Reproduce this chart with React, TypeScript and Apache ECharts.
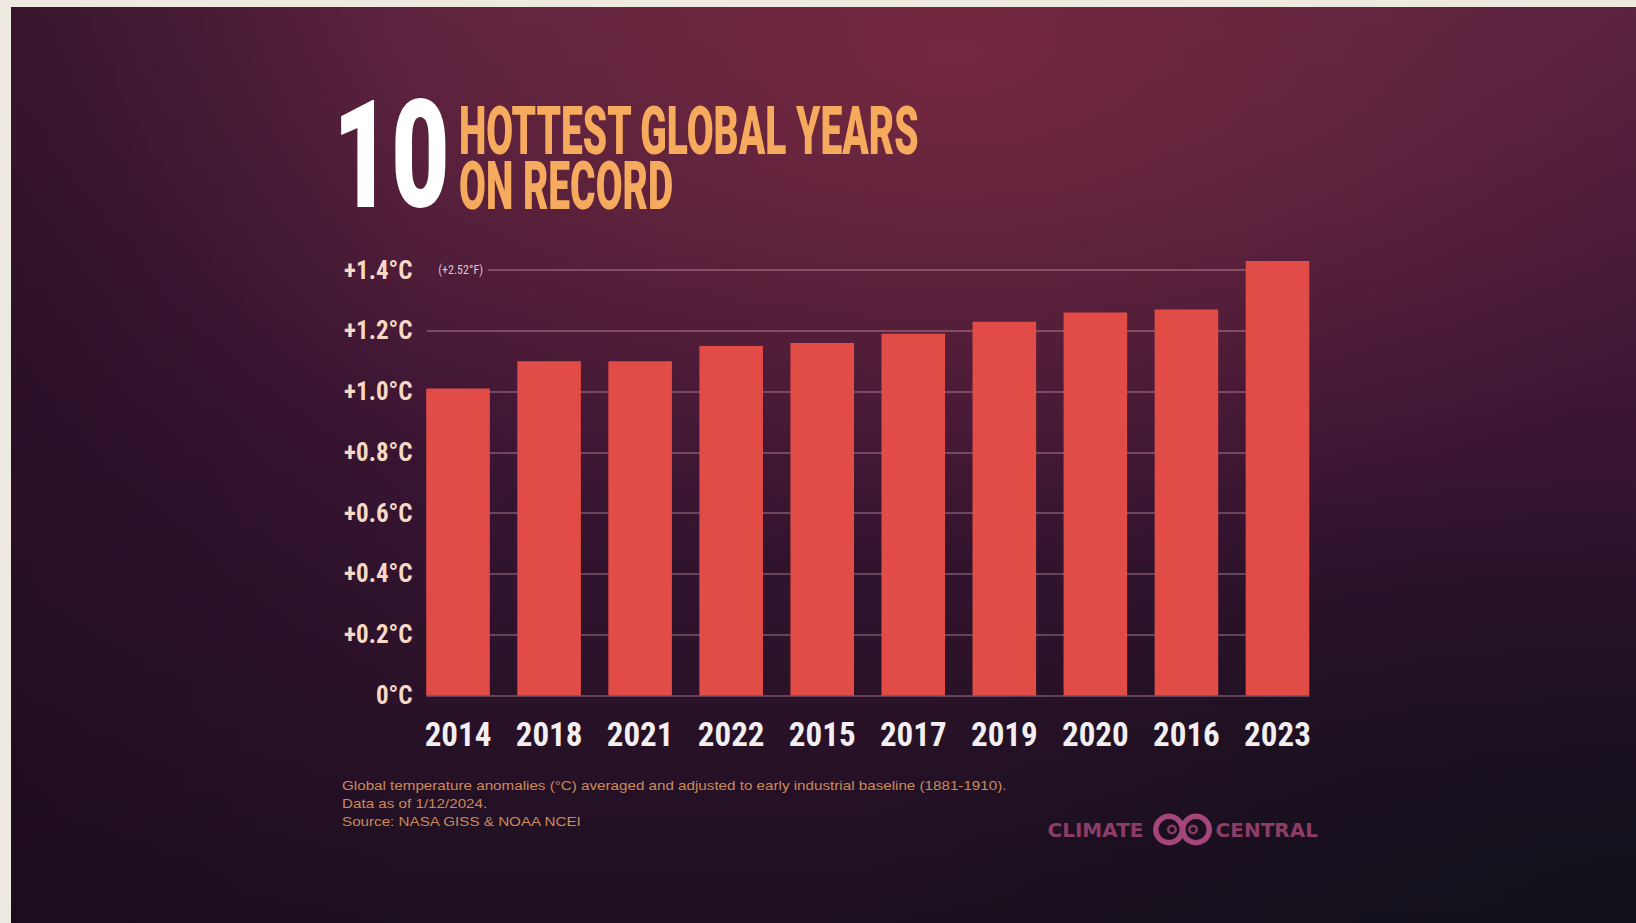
import React, { useEffect, useRef } from "react";
import * as echarts from "echarts";

// ---- data ----
const years = ["2014", "2018", "2021", "2022", "2015", "2017", "2019", "2020", "2016", "2023"];
const anomalies = [1.01, 1.1, 1.1, 1.15, 1.16, 1.19, 1.23, 1.26, 1.27, 1.43];
const yMin = 0;
const yMax = 1.4;
const yStep = 0.2;
const topFahrenheitNote = "(+2.52°F)";
const titleNumber = "10";
const titleLines = ["HOTTEST GLOBAL YEARS", "ON RECORD"];
const footnotes = [
  "Global temperature anomalies (°C) averaged and adjusted to early industrial baseline (1881-1910).",
  "Data as of 1/12/2024.",
  "Source: NASA GISS & NOAA NCEI",
];
const brandLeft = "CLIMATE";
const brandRight = "CENTRAL";

const W = 1636;
const H = 923;
const condensed = "'Liberation Sans Narrow', 'Roboto Condensed', 'DejaVu Sans Condensed', 'Arial Narrow', sans-serif";

function yLabel(v: number) {
  if (Math.abs(v) < 1e-9) return "0°C";
  return "+" + v.toFixed(1) + "°C";
}

export default function App() {
  const ref = useRef<HTMLDivElement>(null);
  useEffect(() => {
    if (!ref.current) return;
    const chart = echarts.init(ref.current, null, { renderer: "svg", width: W, height: H });
    const gridTop = 270;
    const gridBottom = H - 695.5;
    const lineColor = "rgba(255,205,220,0.36)";
    const nTicks = Math.round((yMax - yMin) / yStep) + 1;
    const lowerColors = Array.from({ length: nTicks }, (_, i) => (i < nTicks - 1 ? lineColor : "rgba(0,0,0,0)"));
    const topColors = Array.from({ length: nTicks }, (_, i) => (i === nTicks - 1 ? lineColor : "rgba(0,0,0,0)"));

    const option: any = {
      animation: false,
      backgroundColor: "#efeadf",
      grid: [
        { left: 412.5, right: W - 1323, top: gridTop, bottom: gridBottom, containLabel: false },
        { left: 426.7, right: W - 1309.5, top: gridTop, bottom: gridBottom, containLabel: false },
        { left: 488, right: W - 1309.5, top: gridTop, bottom: gridBottom, containLabel: false },
      ],
      xAxis: [
        {
          type: "category",
          gridIndex: 0,
          data: years,
          axisLine: { show: false },
          axisTick: { show: false },
          axisLabel: {
            interval: 0,
            color: "#f3eff1",
            fontSize: 33,
            fontWeight: "bold",
            fontFamily: condensed,
            margin: 22,
          },
        },
        { type: "value", gridIndex: 1, min: 0, max: 1, show: false },
        { type: "value", gridIndex: 2, min: 0, max: 1, show: false },
      ],
      yAxis: [
        {
          type: "value",
          gridIndex: 0,
          min: yMin,
          max: yMax,
          interval: yStep,
          splitLine: { show: false },
          axisLine: { show: false },
          axisTick: { show: false },
          axisLabel: {
            formatter: yLabel,
            color: "#f7d9c6",
            fontSize: 25,
            fontWeight: "bold",
            fontFamily: condensed,
            margin: 0,
          },
        },
        {
          type: "value",
          gridIndex: 1,
          min: yMin,
          max: yMax,
          interval: yStep,
          axisLine: { show: false },
          axisTick: { show: false },
          axisLabel: { show: false },
          splitLine: { show: true, lineStyle: { color: lowerColors, width: 1.5 } },
        },
        {
          type: "value",
          gridIndex: 2,
          min: yMin,
          max: yMax,
          interval: yStep,
          axisLine: { show: false },
          axisTick: { show: false },
          axisLabel: {
            formatter: (v: number) => (Math.abs(v - yMax) < 1e-6 ? topFahrenheitNote : ""),
            color: "#dcc6cf",
            fontSize: 12,
            fontFamily: condensed,
            margin: 5,
          },
          splitLine: { show: true, lineStyle: { color: topColors, width: 1.5 } },
        },
      ],
      series: [
        {
          type: "bar",
          xAxisIndex: 0,
          yAxisIndex: 0,
          data: anomalies,
          barWidth: 63.6,
          clip: false,
          itemStyle: { color: "#e24c46" },
          z: 5,
        },
      ],
      graphic: [
        // dark backdrop
        {
          type: "rect",
          z: -100,
          silent: true,
          shape: { x: 11, y: 7, width: W - 11, height: H - 7 },
          style: {
            fill: new echarts.graphic.LinearGradient(0, 0, 0, 1, [
              { offset: 0, color: "#52203e" },
              { offset: 0.45, color: "#3a1533" },
              { offset: 1, color: "#1d0f20" },
            ]),
          },
        },
        {
          type: "rect",
          z: -99,
          silent: true,
          shape: { x: 11, y: 7, width: W - 11, height: H - 7 },
          style: {
            fill: new echarts.graphic.RadialGradient(0.58, 0.05, 0.55, [
              { offset: 0, color: "rgba(128,44,64,0.75)" },
              { offset: 1, color: "rgba(128,44,64,0)" },
            ]),
          },
        },
        {
          type: "rect",
          z: -98,
          silent: true,
          shape: { x: 11, y: 7, width: W - 11, height: H - 7 },
          style: {
            fill: new echarts.graphic.LinearGradient(0, 0, 1, 0, [
              { offset: 0, color: "rgba(25,8,25,0.45)" },
              { offset: 0.25, color: "rgba(25,8,25,0)" },
              { offset: 1, color: "rgba(25,8,25,0)" },
            ]),
          },
        },
        {
          type: "rect",
          z: -97,
          silent: true,
          shape: { x: 11, y: 7, width: W - 11, height: H - 7 },
          style: {
            fill: new echarts.graphic.RadialGradient(1, 1, 0.5, [
              { offset: 0, color: "rgba(16,15,26,0.95)" },
              { offset: 1, color: "rgba(16,15,26,0)" },
            ]),
          },
        },
        // title
        {
          type: "text",
          z: 50,
          x: 333,
          y: 156,
          scaleX: 0.67,
          style: {
            text: titleNumber,
            fill: "#ffffff",
            fontSize: 150,
            fontWeight: 900,
            fontFamily: "Roboto, sans-serif",
            textAlign: "left",
            textVerticalAlign: "middle",
          },
        },
        {
          type: "text",
          z: 50,
          x: 459,
          y: 131,
          scaleX: 0.59,
          style: {
            text: titleLines[0],
            fill: "#f5aa5e",
            fontSize: 66,
            fontWeight: 900,
            fontFamily: "Roboto, sans-serif",
            textAlign: "left",
            textVerticalAlign: "middle",
          },
        },
        {
          type: "text",
          z: 50,
          x: 459,
          y: 186.5,
          scaleX: 0.59,
          style: {
            text: titleLines[1],
            fill: "#f5aa5e",
            fontSize: 66,
            fontWeight: 900,
            fontFamily: "Roboto, sans-serif",
            textAlign: "left",
            textVerticalAlign: "middle",
          },
        },
        // footnotes
        ...footnotes.map((t, i) => ({
          type: "text",
          z: 50,
          x: 342,
          y: 785 + i * 18.3,
          scaleX: 1.17,
          style: {
            text: t,
            fill: "#cc8a5a",
            fontSize: 13,
            fontFamily: "'Liberation Sans', Arial, sans-serif",
            textAlign: "left",
            textVerticalAlign: "middle",
          },
        })),
        // brand
        {
          type: "text",
          z: 50,
          x: 1047.5,
          y: 829.5,
          style: {
            text: brandLeft,
            fill: "#8c3d67",
            fontSize: 20,
            fontWeight: "bold",
            fontFamily: "'DejaVu Sans', sans-serif",
            textAlign: "left",
            textVerticalAlign: "middle",
          },
        },
        {
          type: "text",
          z: 50,
          x: 1215.6,
          y: 829.5,
          style: {
            text: brandRight,
            fill: "#8c3d67",
            fontSize: 20,
            fontWeight: "bold",
            fontFamily: "'DejaVu Sans', sans-serif",
            textAlign: "left",
            textVerticalAlign: "middle",
          },
        },
        { type: "ring", z: 50, shape: { cx: 1169, cy: 829.5, r: 16, r0: 10.5 }, style: { fill: "#a4467a" } },
        { type: "ring", z: 50, shape: { cx: 1196, cy: 829.5, r: 16, r0: 10.5 }, style: { fill: "#a4467a" } },
        { type: "ring", z: 50, shape: { cx: 1172, cy: 829.5, r: 5, r0: 2.5 }, style: { fill: "#863a63" } },
        { type: "ring", z: 50, shape: { cx: 1193, cy: 829.5, r: 5, r0: 2.5 }, style: { fill: "#863a63" } },
      ],
    };
    chart.setOption(option);
    return () => chart.dispose();
  }, []);
  return <div ref={ref} style={{ position: "fixed", left: 0, top: 0, width: W, height: H }} />;
}
